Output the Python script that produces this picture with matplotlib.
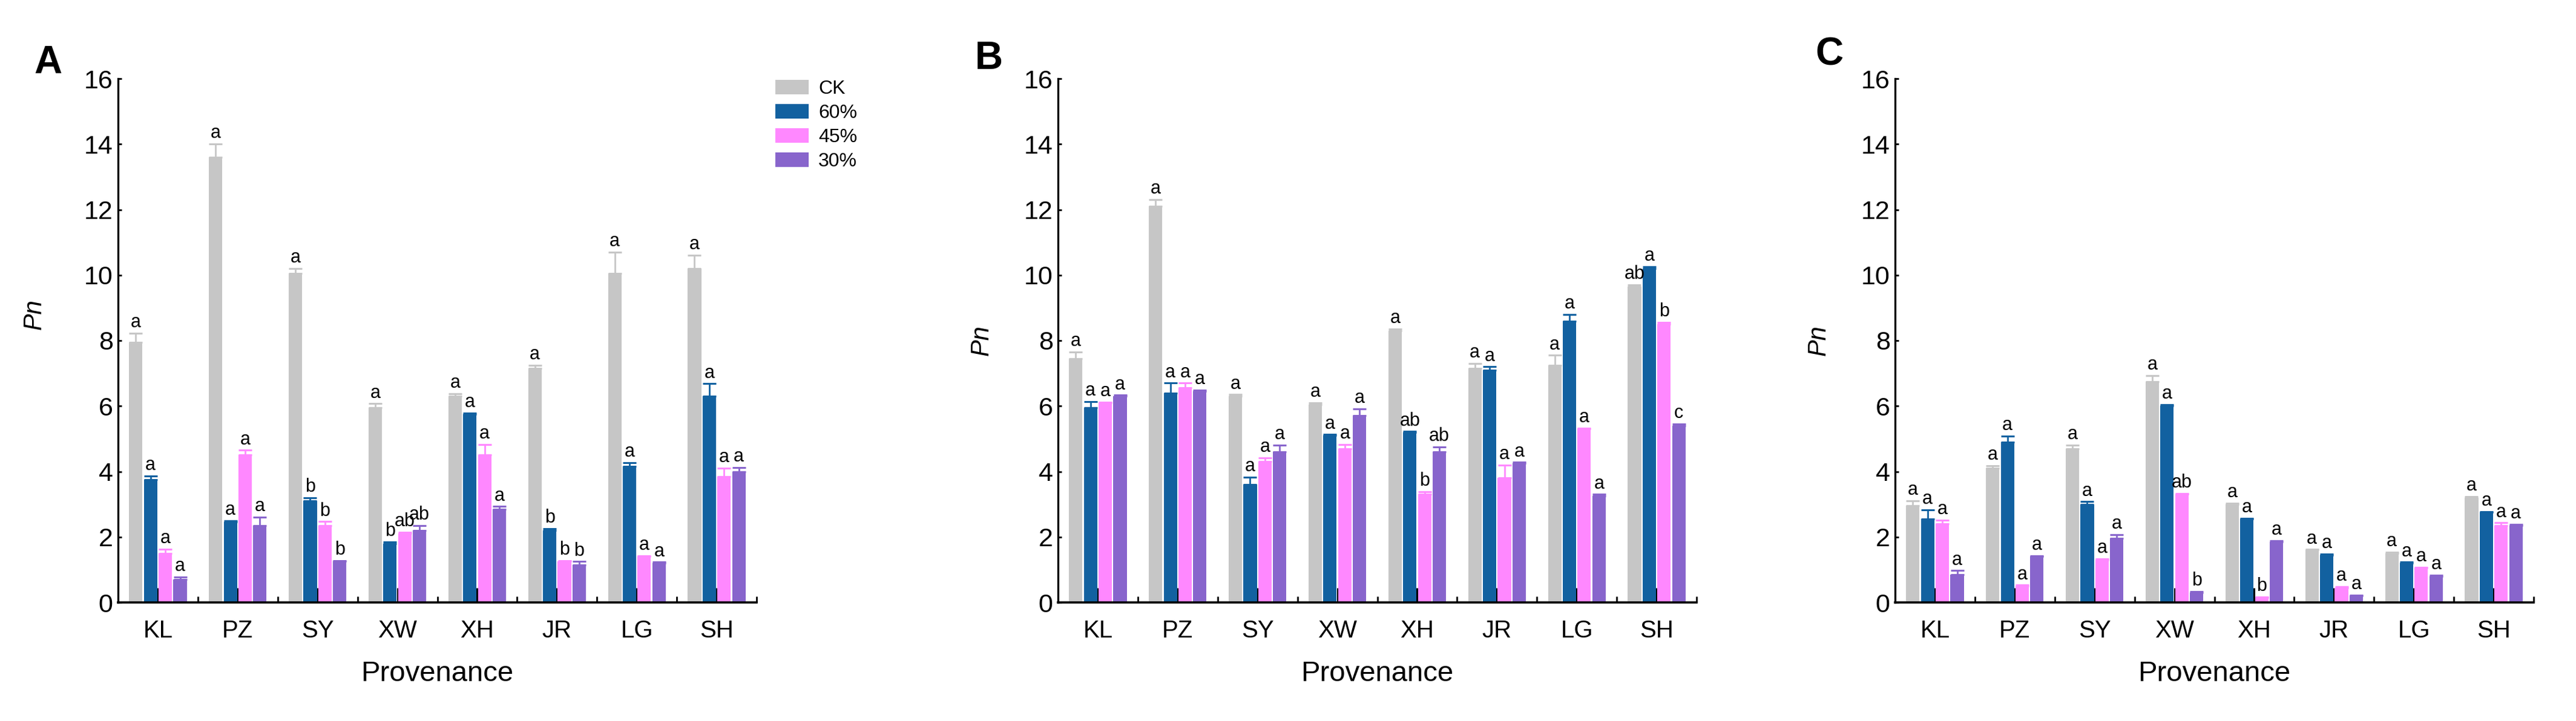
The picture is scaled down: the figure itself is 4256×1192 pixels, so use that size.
import matplotlib
matplotlib.use("Agg")
import matplotlib.pyplot as plt
import numpy as np
from matplotlib.patches import Patch

plt.rcParams['font.family'] = ['Liberation Sans', 'DejaVu Sans']

provenances = ["KL", "PZ", "SY", "XW", "XH", "JR", "LG", "SH"]
treatments = ["CK", "60%", "45%", "30%"]
colors = ["#C6C6C6", "#1261A0", "#FF88FF", "#8865CC"]

# Panel A
A_CK = [7.95, 13.6, 10.05, 5.95, 6.3, 7.15, 10.05, 10.2]
A_60 = [3.75, 2.45, 3.1, 1.8, 5.75, 2.2, 4.15, 6.3]
A_45 = [1.5, 4.5, 2.35, 2.1, 4.5, 1.25, 1.4, 3.85]
A_30 = [0.7, 2.35, 1.25, 2.2, 2.85, 1.15, 1.2, 4.0]
A_CK_err = [0.28, 0.4, 0.15, 0.12, 0.08, 0.1, 0.65, 0.4]
A_60_err = [0.12, 0.04, 0.1, 0.05, 0.04, 0.06, 0.12, 0.38]
A_45_err = [0.13, 0.15, 0.12, 0.05, 0.32, 0.03, 0.03, 0.25]
A_30_err = [0.08, 0.25, 0.03, 0.15, 0.08, 0.1, 0.03, 0.12]
A_CK_sig = ["a", "a", "a", "a", "a", "a", "a", "a"]
A_60_sig = ["a", "a", "b", "b", "a", "b", "a", "a"]
A_45_sig = ["a", "a", "b", "ab", "a", "b", "a", "a"]
A_30_sig = ["a", "a", "b", "ab", "a", "b", "a", "a"]

# Panel B
B_CK = [7.45, 12.1, 6.3, 6.05, 8.3, 7.15, 7.25, 9.65]
B_60 = [5.95, 6.4, 3.6, 5.1, 5.2, 7.1, 8.6, 10.2]
B_45 = [6.1, 6.55, 4.3, 4.7, 3.3, 3.8, 5.3, 8.5]
B_30 = [6.3, 6.45, 4.6, 5.7, 4.6, 4.25, 3.25, 5.4]
B_CK_err = [0.2, 0.2, 0.05, 0.05, 0.05, 0.15, 0.3, 0.05]
B_60_err = [0.18, 0.3, 0.22, 0.03, 0.02, 0.1, 0.2, 0.05]
B_45_err = [0.02, 0.15, 0.12, 0.12, 0.08, 0.4, 0.03, 0.05]
B_30_err = [0.03, 0.03, 0.2, 0.22, 0.15, 0.03, 0.05, 0.05]
B_CK_sig = ["a", "a", "a", "a", "a", "a", "a", "ab"]
B_60_sig = ["a", "a", "a", "a", "ab", "a", "a", "a"]
B_45_sig = ["a", "a", "a", "a", "b", "a", "a", "b"]
B_30_sig = ["a", "a", "a", "a", "ab", "a", "a", "c"]

# Panel C
C_CK = [2.95, 4.1, 4.7, 6.75, 3.0, 1.6, 1.5, 3.2]
C_60 = [2.55, 4.9, 3.0, 6.0, 2.55, 1.45, 1.2, 2.75]
C_45 = [2.4, 0.5, 1.3, 3.3, 0.15, 0.45, 1.05, 2.35]
C_30 = [0.85, 1.4, 1.95, 0.3, 1.85, 0.2, 0.8, 2.35]
C_CK_err = [0.15, 0.08, 0.1, 0.18, 0.03, 0.02, 0.03, 0.03]
C_60_err = [0.28, 0.18, 0.08, 0.05, 0.02, 0.03, 0.03, 0.03]
C_45_err = [0.12, 0.03, 0.03, 0.03, 0.02, 0.03, 0.02, 0.08]
C_30_err = [0.12, 0.03, 0.12, 0.03, 0.03, 0.02, 0.03, 0.03]
C_CK_sig = ["a", "a", "a", "a", "a", "a", "a", "a"]
C_60_sig = ["a", "a", "a", "a", "a", "a", "a", "a"]
C_45_sig = ["a", "a", "a", "ab", "b", "a", "a", "a"]
C_30_sig = ["a", "a", "a", "b", "a", "a", "a", "a"]

panels = [
    ("A", [A_CK, A_60, A_45, A_30], [A_CK_err, A_60_err, A_45_err, A_30_err],
     [A_CK_sig, A_60_sig, A_45_sig, A_30_sig]),
    ("B", [B_CK, B_60, B_45, B_30], [B_CK_err, B_60_err, B_45_err, B_30_err],
     [B_CK_sig, B_60_sig, B_45_sig, B_30_sig]),
    ("C", [C_CK, C_60, C_45, C_30], [C_CK_err, C_60_err, C_45_err, C_30_err],
     [C_CK_sig, C_60_sig, C_45_sig, C_30_sig]),
]

W, H = 4256, 1192
fig = plt.figure(figsize=(W / 100, H / 100), dpi=100)

ax_left_px = [195, 1748, 3131]
ax_w_px = 1055
ax_top_px, ax_bot_px = 130, 996
label_pos = [(79, 104), (1634, 97), (3022, 90)]
ylabel_y = [0.55, 0.5, 0.5]
ylabel_x = [-0.112, -0.101, -0.101]

x = np.arange(len(provenances))
slot = 0.185
bw = 0.168

for i, (plabel, vals, errs, sigs) in enumerate(panels):
    ax = fig.add_axes([ax_left_px[i] / W, 1 - ax_bot_px / H, ax_w_px / W,
                       (ax_bot_px - ax_top_px) / H])
    for j in range(4):
        xpos = x + (j - 1.5) * slot
        ax.bar(xpos, vals[j], width=bw, color=colors[j], zorder=2,
               yerr=[np.zeros(len(vals[j])), errs[j]],
               error_kw=dict(ecolor=colors[j], elinewidth=2, capsize=8, capthick=2.2, zorder=3))
        for k in range(len(provenances)):
            ax.annotate(sigs[j][k], (xpos[k], vals[j][k] + errs[j][k]),
                        xytext=(0, 2), textcoords="offset points",
                        ha="center", va="bottom", fontsize=22)
    ax.set_xlim(-0.5, 7.5)
    ax.set_ylim(0, 16)
    ax.set_yticks(np.arange(0, 17, 2))
    ax.set_xticks(x)
    ax.set_xticklabels(provenances)
    ax.set_xticks(np.arange(-0.5, 8.0, 1.0), minor=True)
    ax.spines["top"].set_visible(False)
    ax.spines["right"].set_visible(False)
    ax.spines["left"].set_linewidth(2.4)
    ax.spines["bottom"].set_linewidth(2.6)
    ax.spines["bottom"].set_zorder(4)
    ax.tick_params(axis="x", which="major", direction="in", length=17, width=2.2,
                   labelsize=29, pad=20)
    ax.tick_params(axis="x", which="minor", direction="in", length=7, width=2)
    ax.tick_params(axis="y", direction="in", length=4, width=2, labelsize=31, pad=6)
    for t in ax.xaxis.get_major_ticks():
        t.tick1line.set_zorder(5)
    ax.set_xlabel("Provenance", fontsize=34, labelpad=22)
    ax.set_ylabel("Pn", fontsize=30, style="italic")
    ax.yaxis.set_label_coords(ylabel_x[i], ylabel_y[i])
    fig.text(label_pos[i][0] / W, 1 - label_pos[i][1] / H, plabel, fontsize=46,
             fontweight="bold", ha="center", va="center")

handles = [Patch(facecolor=c, edgecolor="none") for c in colors]
fig.legend(handles, treatments, loc="upper left",
           bbox_to_anchor=(1281 / W, 1 - 132 / H), frameon=False, fontsize=23,
           handlelength=1.72, handleheight=0.8, handletextpad=0.5,
           labelspacing=0.3, borderpad=0, borderaxespad=0)

fig.savefig("out.png", dpi=100)
